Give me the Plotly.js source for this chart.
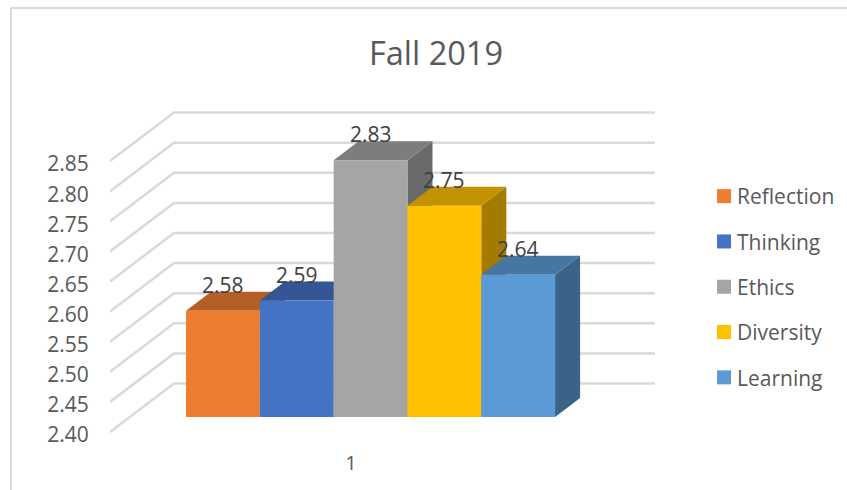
<!DOCTYPE html>
<html>
<head>
<meta charset="utf-8">
<script src="https://cdn.plot.ly/plotly-3.0.1.min.js"></script>
<style>html,body{margin:0;padding:0;background:#fff}#chart{width:847px;height:490px}</style>
</head>
<body>
<div id="chart"></div>
<script>
const category = [1];
const seriesNames = ['Reflection', 'Thinking', 'Ethics', 'Diversity', 'Learning'];
const seriesValues = [2.577, 2.594, 2.828, 2.752, 2.637];
const frontColors = ['#ED7D31', '#4472C4', '#A5A5A5', '#FFC000', '#5B9BD5'];
const topColors = ['#B45F25', '#345695', '#7D7D7D', '#C29200', '#4676A2'];
const sideColors = ['#985020', '#2C4A7E', '#6A6A6A', '#A37B00', '#3A6389'];
const tickValues = [2.40, 2.45, 2.50, 2.55, 2.60, 2.65, 2.70, 2.75, 2.80, 2.85];

const axisBase = 2.40;
const barWidth = 0.2, firstOffset = -0.447;
const depthX = 0.0678, depthY = 0.0317;       // bar depth in axis units
const wallBackX = 0.5203, wallEndX = 1.8238, wallStartX = 0.3469, wallLift = 0.0806;

const traces = [];
// back walls / gridlines on the main axes
tickValues.forEach(t => traces.push({
  type: 'scatter', mode: 'lines', x: [wallStartX, wallBackX, wallEndX], y: [t, t + wallLift, t + wallLift],
  line: {color: '#D9D9D9', width: 2.5}, showlegend: false, hoverinfo: 'skip', yaxis: 'y'
}));
// top and side faces
seriesValues.forEach((v, i) => {
  const L = category[0] + firstOffset + barWidth * i, R = L + barWidth;
  traces.push({type: 'scatter', mode: 'lines', fill: 'toself', fillcolor: sideColors[i], line: {width: 0},
    x: [R, R + depthX, R + depthX, R, R], y: [v, v + depthY, axisBase + depthY, axisBase, v],
    showlegend: false, hoverinfo: 'skip', yaxis: 'y2'});
  traces.push({type: 'scatter', mode: 'lines', fill: 'toself', fillcolor: topColors[i], line: {width: 0},
    x: [L, R, R + depthX, L + depthX, L], y: [v, v, v + depthY, v + depthY, v],
    showlegend: false, hoverinfo: 'skip', yaxis: 'y2'});
});
// front faces: the real bars
seriesValues.forEach((v, i) => traces.push({
  type: 'bar', name: seriesNames[i], x: category, y: [v - axisBase], base: axisBase,
  width: barWidth, offset: firstOffset + barWidth * i, marker: {color: frontColors[i]},
  legendgroup: seriesNames[i], yaxis: 'y3', hoverinfo: 'name+y'
}));

const barRange = [axisBase - 23 / 600, axisBase + 317 / 600];
const layout = {
  width: 847, height: 490, paper_bgcolor: '#fff', plot_bgcolor: 'rgba(0,0,0,0)',
  margin: {l: 110, r: 192, t: 100, b: 50, pad: 0, autoexpand: false},
  font: {family: '"Open Sans", sans-serif', color: '#595959', size: 20},
  title: {text: 'Fall 2019', x: 436 / 847, xref: 'container', xanchor: 'center', y: 1 - 54 / 490, yanchor: 'middle',
    font: {size: 32.5, color: '#595959'}},
  barmode: 'overlay',
  xaxis: {type: 'linear', range: [wallStartX, wallEndX], tickvals: category, ticktext: ['1'], showgrid: false, zeroline: false,
    showline: false, ticks: 'outside', ticklen: 5, tickcolor: 'rgba(0,0,0,0)', tickfont: {size: 20, color: '#595959'}},
  yaxis: {range: [axisBase - 8 / 602, axisBase + 332 / 602], tickvals: tickValues, ticktext: tickValues.map(t => t.toFixed(2)),
    showgrid: false, zeroline: false, showline: false, ticks: 'outside', ticklen: 16, tickcolor: 'rgba(0,0,0,0)',
    ticklabelshift: 3, tickfont: {size: 21, color: '#595959'}},
  yaxis2: {range: barRange, overlaying: 'y', visible: false},
  yaxis3: {range: barRange, overlaying: 'y', visible: false},
  legend: {x: (697 - 110) / 545, xanchor: 'left', y: (440 - 287) / 340, yanchor: 'middle', yref: 'paper',
    font: {size: 21, color: '#595959'}, tracegroupgap: 15, traceorder: 'grouped', bgcolor: 'rgba(0,0,0,0)'},
  shapes: [
    {type: 'line', xref: 'paper', yref: 'paper', x0: (11 - 110) / 545, x1: (847 - 110) / 545, y0: (440 - 8) / 340, y1: (440 - 8) / 340,
      line: {color: '#D9D9D9', width: 2}},
    {type: 'line', xref: 'paper', yref: 'paper', x0: (11 - 110) / 545, x1: (11 - 110) / 545, y0: (440 - 8) / 340, y1: (440 - 490) / 340,
      line: {color: '#D9D9D9', width: 2}}
  ],
  annotations: seriesValues.map((v, i) => ({
    xref: 'x', yref: 'y3', x: category[0] + firstOffset + barWidth * (i + 0.5), y: v, yshift: 26,
    text: v.toFixed(2), showarrow: false, xanchor: 'center', yanchor: 'middle', font: {size: 21, color: '#404040'}
  }))
};
Plotly.newPlot('chart', traces, layout, {displayModeBar: false, staticPlot: true}).then(() => {
  // legend swatches sit closer to their labels and slightly larger than Plotly's default
  document.querySelectorAll('.legend .legendsymbols').forEach(g => g.setAttribute('transform', 'translate(3.7,0) scale(1.167)'));
});
</script>
</body>
</html>
